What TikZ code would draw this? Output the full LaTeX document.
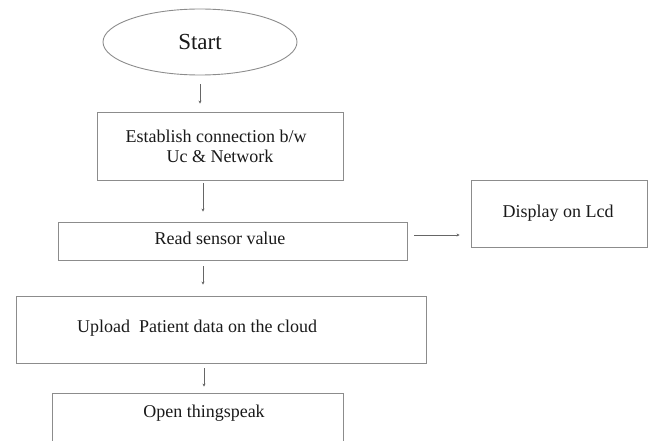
\documentclass[tikz,border=0pt]{standalone}
\usepackage{fontspec}
\setmainfont{Liberation Serif}
\usetikzlibrary{shapes.geometric,arrows.meta}
\begin{document}
\begin{tikzpicture}[x=1pt,y=-1pt,
  box/.style={draw=black!45,line width=0.9pt,inner sep=0pt},
  lbl/.style={font=\fontsize{18}{21}\selectfont,text=black!90},
  arr/.style={draw=black!60,line width=0.8pt,-{Stealth[length=3pt,width=3pt]}}]
\useasboundingbox (0,0) rectangle (651,441);
\node[ellipse,draw=black!45,line width=0.9pt,minimum width=194pt,minimum height=66pt,inner sep=0pt,font=\fontsize{23}{26}\selectfont,text=black!90] (start) at (200,42) {Start};
\node[box,minimum width=246pt,minimum height=68pt] (est) at (220,146) {};
\node[lbl] (estt1) at (216,136) {Establish connection b/w};
\node[lbl] (estt2) at (220,156) {Uc \& Network};
\node[box,minimum width=349pt,minimum height=38pt] (read) at (232.5,241) {};
\node[lbl] (readt) at (220,238) {Read sensor value};
\node[box,minimum width=176pt,minimum height=67pt] (disp) at (559,214) {};
\node[lbl] (dispt) at (558,213) {Display on Lcd};
\node[box,minimum width=410pt,minimum height=67pt] (up) at (221,329.5) {};
\node[lbl] (upt) at (197,328) {Upload\ \ Patient data on the cloud};
\node[box,minimum width=291pt,minimum height=60pt] (open) at (197.5,423) {};
\node[lbl] (opent) at (204,413) {Open thingspeak};
\draw[arr,shorten <=9pt,shorten >=8pt] (start.south) -- (start.south |- est.north);
\draw[arr,shorten <=3pt,shorten >=10pt] ([xshift=-17pt]est.south) -- ([xshift=-17pt]est.south |- read.north);
\draw[arr,shorten <=7pt,shorten >=11pt] ([yshift=6pt]read.east) -- ([yshift=6pt]read.east -| disp.west);
\draw[arr,shorten <=6pt,shorten >=11pt] ([xshift=-29.5pt]read.south) -- ([xshift=-29.5pt]read.south |- up.north);
\draw[arr,shorten <=5pt,shorten >=6pt] ([xshift=-17pt]up.south) -- ([xshift=-17pt]up.south |- open.north);
\end{tikzpicture}
\end{document}
